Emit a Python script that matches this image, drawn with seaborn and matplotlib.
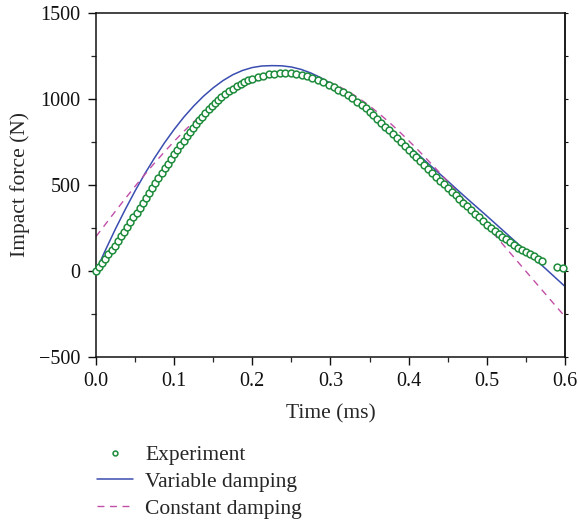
import numpy as np
import pandas as pd
import matplotlib
matplotlib.use('Agg')
import matplotlib.pyplot as plt
from matplotlib.lines import Line2D
from matplotlib.ticker import MultipleLocator, NullFormatter
import seaborn as sns

# experiment
exp_time = [0.000, 0.004, 0.008, 0.012, 0.016, 0.020, 0.024, 0.028, 0.032, 0.036,
            0.040, 0.044, 0.048, 0.052, 0.056, 0.060, 0.064, 0.068, 0.072, 0.076,
            0.080, 0.084, 0.088, 0.092, 0.096, 0.100, 0.104, 0.108, 0.112, 0.116,
            0.120, 0.124, 0.128, 0.132, 0.136, 0.140, 0.144, 0.148, 0.152, 0.156,
            0.160, 0.165, 0.170, 0.175, 0.180, 0.185, 0.190, 0.195, 0.200, 0.207,
            0.214, 0.221, 0.228, 0.235, 0.242, 0.249, 0.256, 0.263, 0.270, 0.277,
            0.284, 0.291, 0.298, 0.304, 0.310, 0.316, 0.322, 0.328, 0.334, 0.340,
            0.345, 0.350, 0.355, 0.360, 0.365, 0.370, 0.375, 0.380, 0.385, 0.390,
            0.395, 0.400, 0.405, 0.410, 0.415, 0.420, 0.425, 0.430, 0.435, 0.440,
            0.445, 0.450, 0.455, 0.460, 0.465, 0.470, 0.475, 0.480, 0.485, 0.490,
            0.495, 0.500, 0.505, 0.510, 0.515, 0.520, 0.525, 0.530, 0.535, 0.540,
            0.545, 0.550, 0.555, 0.560, 0.565, 0.570, 0.590, 0.598]
exp_force = [0, 24, 48, 72, 96, 120, 147, 174, 201, 228,
             255, 283, 311, 339, 367, 395, 424, 453, 482, 511,
             540, 568, 596, 624, 652, 680, 706, 732, 758, 784,
             810, 833, 855, 877, 898, 920, 939, 957, 975, 992,
             1010, 1028, 1045, 1060, 1075, 1087, 1098, 1108, 1118, 1128,
             1136, 1143, 1148, 1151, 1152, 1150, 1147, 1141, 1133, 1122,
             1110, 1096, 1080, 1067, 1054, 1040, 1024, 1005, 985, 965,
             945, 925, 905, 885, 862, 840, 817, 795, 772, 750,
             727, 705, 682, 660, 637, 615, 592, 570, 547, 525,
             504, 482, 461, 440, 419, 397, 376, 355, 334, 312,
             291, 270, 252, 235, 217, 200, 184, 167, 151, 135,
             123, 112, 100, 88, 72, 58, 25, 15]

# model curves, read every 0.0125 ms
model_time = [0.0000, 0.0125, 0.0250, 0.0375, 0.0500, 0.0625, 0.0750, 0.0875,
              0.1000, 0.1125, 0.1250, 0.1375, 0.1500, 0.1625, 0.1750, 0.1875,
              0.2000, 0.2125, 0.2250, 0.2375, 0.2500, 0.2625, 0.2750, 0.2875,
              0.3000, 0.3125, 0.3250, 0.3375, 0.3500, 0.3625, 0.3750, 0.3875,
              0.4000, 0.4125, 0.4250, 0.4375, 0.4500, 0.4625, 0.4750, 0.4875,
              0.5000, 0.5125, 0.5250, 0.5375, 0.5500, 0.5625, 0.5750, 0.5875,
              0.6000]
variable_damping = [0, 125, 245, 358, 465, 565, 658, 744,
                    823, 895, 959, 1016, 1065, 1107, 1141, 1166,
                    1183, 1192, 1194, 1193, 1186, 1172, 1151, 1124,
                    1091, 1054, 1013, 969, 923, 875, 826, 776,
                    726, 676, 625, 574, 523, 471, 420, 370,
                    320, 269, 218, 167, 116, 65, 14, -38,
                    -90]
constant_damping = [200, 274, 348, 421, 492, 561, 628, 692,
                    754, 812, 867, 918, 964, 1005, 1042, 1073,
                    1098, 1117, 1131, 1139, 1141, 1138, 1129, 1115,
                    1095, 1069, 1038, 1001, 960, 914, 865, 813,
                    758, 701, 642, 582, 520, 457, 393, 328,
                    263, 197, 131, 65, -2, -68, -134, -200,
                    -265]

green = '#1e8c3c'
blue = '#3a4db0'
pink = '#c04fa8'

df_exp = pd.DataFrame({'t': exp_time, 'F': exp_force})
df_var = pd.DataFrame({'t': model_time, 'F': variable_damping})
df_con = pd.DataFrame({'t': model_time, 'F': constant_damping})

sns.set_style('ticks')
plt.rcParams['font.family'] = ['Liberation Serif', 'DejaVu Serif']

fig = plt.figure(figsize=(5.78, 5.2), dpi=100)
ax = fig.add_axes([0.166, 0.3135, 0.8115, 0.6615])

sns.lineplot(data=df_var, x='t', y='F', ax=ax, color=blue, lw=1.1)
sns.lineplot(data=df_con, x='t', y='F', ax=ax, color=pink, lw=1.0,
             linestyle=(0, (5, 4)))
sns.scatterplot(data=df_exp, x='t', y='F', ax=ax, s=24, marker='o',
                facecolor='white', edgecolor=green, linewidth=1.1, clip_on=False,
                zorder=3)

ax.set_xlim(0, 0.6)
ax.set_ylim(-500, 1500)
ax.xaxis.set_major_locator(MultipleLocator(0.1))
ax.xaxis.set_minor_locator(MultipleLocator(0.05))
ax.yaxis.set_major_locator(MultipleLocator(500))
ax.yaxis.set_minor_locator(MultipleLocator(250))
ax.set_xticklabels(['%.1f' % v for v in ax.get_xticks()])
ax.set_yticklabels(['\u2212500' if v < 0 else '%d' % v for v in ax.get_yticks()])
ax.tick_params(which='major', direction='out', length=6, width=1, labelsize=14.5,
               colors='#111111', pad=5)
ax.tick_params(which='minor', direction='out', length=3.5, width=0.9)
for sp in ax.spines.values():
    sp.set_linewidth(1.1)
    sp.set_color('#111111')

# tiny outward ticks on the right spine
sec = ax.secondary_yaxis('right')
sec.yaxis.set_major_locator(MultipleLocator(500))
sec.yaxis.set_minor_locator(MultipleLocator(250))
sec.yaxis.set_major_formatter(NullFormatter())
sec.tick_params(which='both', direction='out', length=2, width=0.8, colors='#111111')
sec.spines['right'].set_linewidth(1.1)

ax.set_xlabel('Time (ms)', fontsize=15.5, labelpad=9)
ax.set_ylabel('Impact force (N)', fontsize=15.5, labelpad=7)

handles = [
    Line2D([], [], ls='none', marker='o', ms=3.5, mfc='white', mec=green, mew=1.1),
    Line2D([], [], color=blue, lw=1.1),
    Line2D([], [], color=pink, lw=1.0, ls=(0, (5, 4))),
]
labels = ['Experiment', 'Variable damping', 'Constant damping']
fig.legend(handles, labels, loc='upper left', bbox_to_anchor=(0.168, 0.144),
           frameon=False, fontsize=15.5, handlelength=1.67, handletextpad=0.56,
           labelspacing=0.31, borderpad=0, borderaxespad=0)

fig.savefig('out.png', dpi=100)
